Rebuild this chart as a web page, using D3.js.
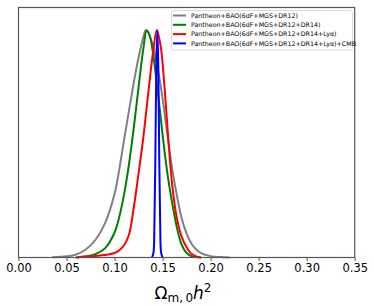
<!DOCTYPE html>
<html>
<head>
    <meta charset="utf-8">
    <script src="https://d3js.org/d3.v7.min.js"></script>
    <style>
        body { margin: 0; background: #fff; }
        svg { display: block; font-family: "DejaVu Sans", sans-serif; }
    </style>
</head>
<body>
<script>
    // posterior curves (x = Omega_m0 h^2, y = normalised density)
    var grayX = [0.035, 0.05, 0.06, 0.07, 0.08, 0.09, 0.10, 0.11, 0.12, 0.125, 0.13, 0.1325, 0.135, 0.14, 0.145, 0.15, 0.155, 0.16, 0.165, 0.17, 0.175, 0.18, 0.185, 0.19, 0.20, 0.21, 0.22];
    var grayY = [0.001, 0.005, 0.013, 0.035, 0.077, 0.15, 0.28, 0.52, 0.77, 0.88, 0.97, 1.0, 0.99, 0.93, 0.83, 0.7, 0.54, 0.39, 0.27, 0.17, 0.105, 0.062, 0.035, 0.019, 0.006, 0.002, 0];

    var greenX = [0.06, 0.07, 0.08, 0.09, 0.10, 0.105, 0.11, 0.115, 0.12, 0.125, 0.13, 0.1335, 0.137, 0.14, 0.145, 0.15, 0.155, 0.16, 0.165, 0.17, 0.175, 0.18, 0.19];
    var greenY = [0, 0.004, 0.015, 0.04, 0.11, 0.18, 0.28, 0.41, 0.57, 0.75, 0.92, 1.0, 0.97, 0.9, 0.73, 0.54, 0.37, 0.24, 0.13, 0.055, 0.02, 0.006, 0];

    var redX = [0.06, 0.07, 0.08, 0.09, 0.10, 0.105, 0.11, 0.115, 0.12, 0.125, 0.13, 0.135, 0.14, 0.144, 0.148, 0.152, 0.156, 0.16, 0.165, 0.17, 0.175, 0.18, 0.185, 0.19];
    var redY = [0, 0.004, 0.007, 0.011, 0.02, 0.032, 0.055, 0.1, 0.22, 0.37, 0.53, 0.72, 0.9, 1.0, 0.93, 0.75, 0.52, 0.32, 0.17, 0.09, 0.045, 0.016, 0.005, 0];

    var blueX = [0.139, 0.1405, 0.1415, 0.1425, 0.1435, 0.1445, 0.1455, 0.1465, 0.1475, 0.1485, 0.150];
    var blueY = [0, 0.02, 0.15, 0.45, 0.85, 1.0, 0.85, 0.45, 0.15, 0.02, 0];

    var seriesNames = [
        "Pantheon+BAO(6dF+MGS+DR12)",
        "Pantheon+BAO(6dF+MGS+DR12+DR14)",
        "Pantheon+BAO(6dF+MGS+DR12+DR14+Ly\u03b1)",
        "Pantheon+BAO(6dF+MGS+DR12+DR14+Ly\u03b1)+CMB"
    ];
    var seriesColors = ["#808080", "#008000", "#ff0000", "#0000ff"];
    var xTicks = [0, 0.05, 0.10, 0.15, 0.20, 0.25, 0.30, 0.35];

    var width = 374, height = 306;
    var margin = {left: 18.5, right: 19.3, top: 7.5, bottom: 48.5};

    var svg = d3.select("body").append("svg")
        .attr("width", width)
        .attr("height", height);

    var x = d3.scaleLinear().domain([0, 0.35]).range([margin.left, width - margin.right]);
    var y = d3.scaleLinear().domain([0, 1.1]).range([height - margin.bottom, margin.top]);

    var series = [
        {xs: grayX, ys: grayY},
        {xs: greenX, ys: greenY},
        {xs: redX, ys: redY},
        {xs: blueX, ys: blueY}
    ];

    var line = d3.line()
        .x(function (d) { return x(d[0]); })
        .y(function (d) { return y(d[1]); })
        .curve(d3.curveCatmullRom.alpha(0.5));

    svg.selectAll("path.curve")
        .data(series)
        .enter()
        .append("path")
        .attr("class", "curve")
        .attr("d", function (s) { return line(d3.zip(s.xs, s.ys)); })
        .attr("fill", "none")
        .attr("stroke", function (s, i) { return seriesColors[i]; })
        .attr("stroke-width", 2);

    // frame
    svg.append("rect")
        .attr("x", x(0))
        .attr("y", y(1.1))
        .attr("width", x(0.35) - x(0))
        .attr("height", y(0) - y(1.1))
        .attr("fill", "none")
        .attr("stroke", "#555")
        .attr("stroke-width", 1.2);

    var xAxis = svg.append("g")
        .attr("transform", "translate(0," + y(0) + ")")
        .call(d3.axisBottom(x).tickValues(xTicks).tickFormat(d3.format(".2f")).tickSize(3.5).tickPadding(2.5));
    xAxis.select(".domain").remove();
    xAxis.selectAll("line").attr("stroke", "#555");
    xAxis.selectAll("text")
        .attr("font-size", "11.5px")
        .attr("font-family", "DejaVu Sans")
        .attr("fill", "#000");

    // x label
    var label = svg.append("text")
        .attr("x", 183)
        .attr("y", 299)
        .attr("text-anchor", "middle")
        .attr("font-size", "17px")
        .attr("font-family", "DejaVu Sans");
    label.append("tspan").text("\u03a9");
    label.append("tspan").attr("font-size", "12px").attr("dy", 3).text("m,\u20090");
    label.append("tspan").attr("font-style", "italic").attr("dy", -3).text("h");
    label.append("tspan").attr("font-size", "12px").attr("dy", -7).text("2");

    // legend
    var legend = svg.append("g").attr("transform", "translate(171.5,10.5)");
    legend.append("rect")
        .attr("width", 181)
        .attr("height", 39.5)
        .attr("rx", 2)
        .attr("fill", "#fff")
        .attr("fill-opacity", 0.8)
        .attr("stroke", "#d0d0d0")
        .attr("stroke-width", 0.8);

    var items = legend.selectAll("g.item")
        .data(seriesNames)
        .enter()
        .append("g")
        .attr("class", "item")
        .attr("transform", function (d, i) { return "translate(0," + (5 + i * 9.3) + ")"; });

    items.append("line")
        .attr("x1", 1.5).attr("x2", 14.5)
        .attr("stroke", function (d, i) { return seriesColors[i]; })
        .attr("stroke-width", 2);

    items.append("text")
        .attr("x", 19.5)
        .attr("y", 2.2)
        .attr("font-size", "6.3px")
        .attr("font-family", "DejaVu Sans")
        .text(function (d) { return d; });
</script>
</body>
</html>
